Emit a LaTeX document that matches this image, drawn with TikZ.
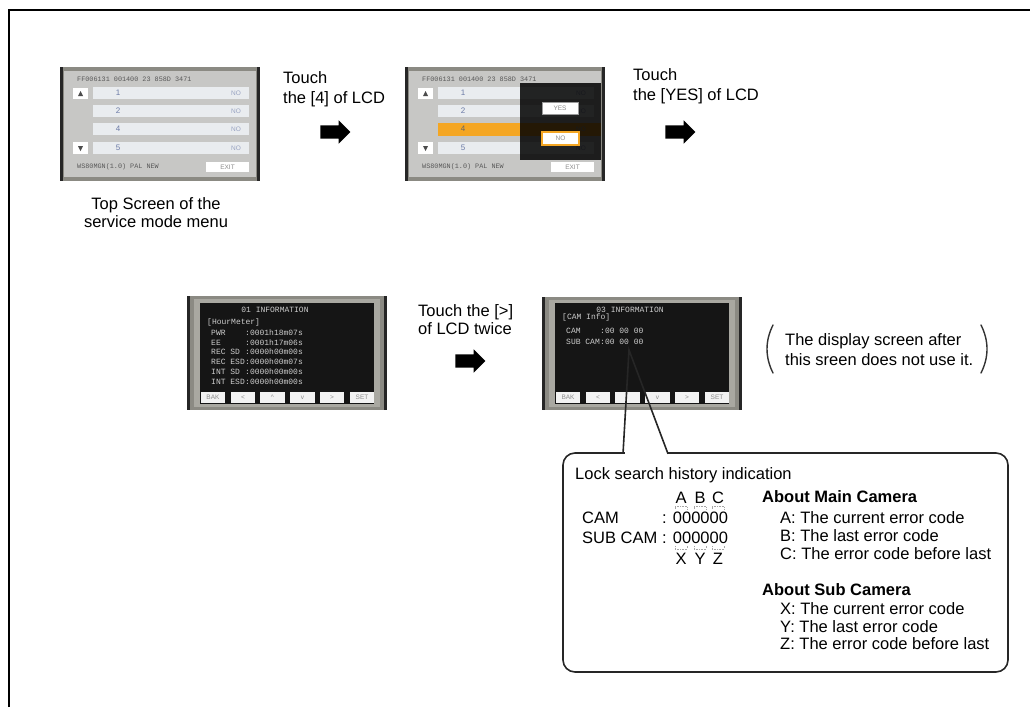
\documentclass[tikz,border=0pt]{standalone}
\usepackage{fontspec}
\setmainfont{Liberation Sans}
\setmonofont{Liberation Mono}
\usetikzlibrary{shapes.arrows}

\definecolor{lcdframe}{HTML}{8B8A83}
\definecolor{lcdring}{HTML}{A9A8A1}
\definecolor{lcdpanel}{HTML}{C7C7C5}
\definecolor{lcdrow}{HTML}{E9ECEF}
\definecolor{lcdblue}{HTML}{6B7AA6}
\definecolor{lcdorange}{HTML}{F4A623}
\definecolor{lcdblack}{HTML}{151515}

\begin{document}
\begin{tikzpicture}[x=1pt,y=-1pt,
  txt/.style={inner sep=0pt,anchor=base west,font=\fontsize{16.5}{19}\selectfont},
  ctxt/.style={txt,anchor=base},
  hdtxt/.style={txt,font=\fontsize{16.5}{19}\selectfont\bfseries},
  blockarrow/.style={single arrow,fill=black,inner sep=6.5pt,minimum height=30pt,single arrow head extend=5pt},
  lcdtxt/.style={inner sep=0pt,anchor=base west,text=white!80!black,font=\fontsize{8}{9}\ttfamily},
  infotxt/.style={inner sep=0pt,anchor=west,text=black!65,font=\fontsize{6.8}{8}\ttfamily},
  menutxt/.style={inner sep=0pt,text=lcdblue,font=\fontsize{8}{9}\selectfont},
  notxt/.style={inner sep=0pt,text=lcdblue!70,font=\fontsize{6.5}{7}\selectfont},
  keytxt/.style={inner sep=0pt,text=black!45,font=\fontsize{6.5}{7}\selectfont},
  rowbar/.style={fill=lcdrow},
  keybox/.style={fill=white!95!black},
  pairmark/.style={black!35,densely dotted,line width=0.6pt},
  callout/.style={black!85,line width=1.6pt},
  paren/.style={black!80,line width=1.4pt,line cap=round}]

\useasboundingbox (0,0) rectangle (1030,707);
\draw[line width=2pt] (9,707) -- (9,10) -- (1030,10);

\fill[lcdframe] (60,67) rectangle (260,181);
\fill[black!85] (60,67) rectangle (63,181);
\fill[black!85] (257,67) rectangle (260,181);
\fill[lcdpanel] (64,71) rectangle (256,177);
\node[infotxt] (hdra) at (77,79) {FF006131 001400 23 858D 3471};
\fill[white] (73,88) rectangle (88,99);
\fill[black!70] (78,96) -- (83,96) -- (80.5,91) -- cycle;
\fill[rowbar] (93,87) rectangle (249,99);
\fill[rowbar] (93,105) rectangle (249,117);
\fill[rowbar] (93,123) rectangle (249,135);
\fill[rowbar] (93,142) rectangle (249,154);
\fill[white] (73,142) rectangle (88,154);
\fill[black!70] (78,146) -- (83,146) -- (80.5,151) -- cycle;
\node[menutxt] (rowa1) at (118,93) {1};
\node[menutxt] (rowa2) at (118,111) {2};
\node[menutxt] (rowa3) at (118,129) {4};
\node[menutxt] (rowa4) at (118,148) {5};
\node[notxt] (noa1) at (236,93) {NO};
\node[notxt] (noa2) at (236,111) {NO};
\node[notxt] (noa3) at (236,129) {NO};
\node[notxt] (noa4) at (236,148) {NO};
\node[infotxt] (fota) at (77,167) {WS80MGN(1.0) PAL NEW};
\fill[white] (206,162) rectangle (249,172);
\node[keytxt] (exita) at (227.5,167) {EXIT};

\node[ctxt] (topa) at (156,209) {Top Screen of the};
\node[ctxt] (topb) at (156,227) {service mode menu};

\node[txt] (toucha) at (283,83) {Touch};
\node[txt] (touchb) at (283,103) {the [4] of LCD};
\node[blockarrow] (arra) at (332,132) {};

\fill[lcdframe] (405,67) rectangle (605,181);
\fill[black!85] (405,67) rectangle (408,181);
\fill[black!85] (602,67) rectangle (605,181);
\fill[lcdpanel] (409,71) rectangle (601,177);
\node[infotxt] (hdrb) at (422,79) {FF006131 001400 23 858D 3471};
\fill[white] (418,88) rectangle (433,99);
\fill[black!70] (423,96) -- (428,96) -- (425.5,91) -- cycle;
\fill[rowbar] (438,87) rectangle (594,99);
\fill[rowbar] (438,105) rectangle (594,117);
\fill[lcdorange] (438,123) rectangle (601,136);
\fill[rowbar] (438,142) rectangle (594,154);
\fill[white] (418,142) rectangle (433,154);
\fill[black!70] (423,146) -- (428,146) -- (425.5,151) -- cycle;
\node[menutxt] (rowb1) at (463,93) {1};
\node[menutxt] (rowb2) at (463,111) {2};
\node[menutxt,text=black!60] (rowb3) at (463,129) {4};
\node[menutxt] (rowb4) at (463,148) {5};
\node[notxt] (nob1) at (581,93) {NO};
\node[notxt] (nob2) at (581,111) {NO};
\node[notxt] (nob3) at (581,129) {NO};
\node[notxt] (nob4) at (581,148) {NO};
\node[infotxt] (fotb) at (422,167) {WS80MGN(1.0) PAL NEW};
\fill[white] (551,162) rectangle (594,172);
\node[keytxt] (exitb) at (572.5,167) {EXIT};
\fill[black,opacity=0.85] (520,83) rectangle (601,160);
\draw[black!40,fill=white] (542,102) rectangle (578,114);
\node[keytxt] (yesb) at (560,108) {YES};
\draw[lcdorange,line width=1.2pt,fill=white] (542,132) rectangle (579,145);
\node[keytxt] (nosel) at (560.5,138.5) {NO};

\node[txt] (touchc) at (633,80) {Touch};
\node[txt] (touchd) at (633,100) {the [YES] of LCD};
\node[blockarrow] (arrb) at (677,132) {};

\fill[black!85] (187,296) rectangle (387,410);
\fill[lcdframe] (190,296) rectangle (384,410);
\fill[lcdring] (194,299) rectangle (380,407);
\fill[lcdblack] (200,303) rectangle (374,404);
\node[lcdtxt,anchor=base] (infoa) at (275,312.5) {01 INFORMATION};
\node[lcdtxt] (hmtr) at (207,324.5) {[HourMeter]};
\node[lcdtxt] (hm1) at (211,335.5) {PWR};
\node[lcdtxt] (hv1) at (245,335.5) {:0001h18m07s};
\node[lcdtxt] (hm2) at (211,345) {EE};
\node[lcdtxt] (hv2) at (245,345) {:0001h17m06s};
\node[lcdtxt] (hm3) at (211,354.5) {REC SD};
\node[lcdtxt] (hv3) at (245,354.5) {:0000h00m00s};
\node[lcdtxt] (hm4) at (211,364) {REC ESD};
\node[lcdtxt] (hv4) at (245,364) {:0000h00m07s};
\node[lcdtxt] (hm5) at (211,374) {INT SD};
\node[lcdtxt] (hv5) at (245,374) {:0000h00m00s};
\node[lcdtxt] (hm6) at (211,384) {INT ESD};
\node[lcdtxt] (hv6) at (245,384) {:0000h00m00s};
\fill[keybox] (201,392) rectangle (225,403);
\fill[keybox] (231,392) rectangle (255,403);
\fill[keybox] (260,392) rectangle (285,403);
\fill[keybox] (290,392) rectangle (315,403);
\fill[keybox] (320,392) rectangle (344,403);
\fill[keybox] (350,392) rectangle (374,403);
\node[keytxt] (bakc) at (213,397.5) {BAK};
\node[keytxt] (ltc) at (243,397.5) {<};
\node[keytxt] (upc) at (272.5,397.5) {\^{}};
\node[keytxt] (dnc) at (302.5,397.5) {v};
\node[keytxt] (gtc) at (332,397.5) {>};
\node[keytxt] (setc) at (362,397.5) {SET};

\node[txt] (touche) at (418,316) {Touch the [>]};
\node[txt] (touchf) at (418,334) {of LCD twice};
\node[blockarrow] (arrc) at (467,361) {};

\fill[black!85] (542,297) rectangle (742,410);
\fill[lcdframe] (545,297) rectangle (739,410);
\fill[lcdring] (549,300) rectangle (735,407);
\fill[lcdblack] (555,303) rectangle (729,404);
\node[lcdtxt,anchor=base] (infob) at (630,312.5) {03 INFORMATION};
\node[lcdtxt] (caminfo) at (562,319.5) {[CAM Info]};
\node[lcdtxt] (cm1) at (566,333.5) {CAM};
\node[lcdtxt] (cv1) at (600,333.5) {:00 00 00};
\node[lcdtxt] (cm2) at (566,344.5) {SUB CAM};
\node[lcdtxt] (cv2) at (600,344.5) {:00 00 00};
\fill[keybox] (556,392) rectangle (580,403);
\fill[keybox] (586,392) rectangle (610,403);
\fill[keybox] (615,392) rectangle (640,403);
\fill[keybox] (645,392) rectangle (670,403);
\fill[keybox] (675,392) rectangle (699,403);
\fill[keybox] (705,392) rectangle (729,403);
\node[keytxt] (bakd) at (568,397.5) {BAK};
\node[keytxt] (ltd) at (598,397.5) {<};
\node[keytxt] (dnd) at (657.5,397.5) {v};
\node[keytxt] (gtd) at (687,397.5) {>};
\node[keytxt] (setd) at (717,397.5) {SET};

\draw[paren] (773,325) .. controls (765,341) and (765,357) .. (773,373);
\draw[paren] (981,325) .. controls (989,341) and (989,357) .. (981,373);
\node[txt] (notea) at (785,345) {The display screen after};
\node[txt] (noteb) at (785,365) {this sreen does not use it.};

\draw[callout,rounded corners=12pt] (563,453) rectangle (1008,672);
\fill[white] (624.5,450) rectangle (666.5,456);
\coordinate (tip) at (629,350);
\draw[callout] (623,453.8) -- (tip) -- (668,453.8);

\node[txt] (lockhd) at (575,479) {Lock search history indication};
\node[ctxt] (la) at (681,503) {A};
\node[ctxt] (lb) at (700,503) {B};
\node[ctxt] (lc) at (718,503) {C};
\draw[pairmark] (675,509) -- (675,506) -- (687,506) -- (687,509);
\draw[pairmark] (694,509) -- (694,506) -- (706,506) -- (706,509);
\draw[pairmark] (712,509) -- (712,506) -- (724,506) -- (724,509);
\node[txt] (camk) at (582,523) {CAM};
\node[txt] (camv) at (662,523) {: 000000};
\node[txt] (subk) at (582,543) {SUB CAM};
\node[txt] (subv) at (662,543) {: 000000};
\draw[pairmark] (675,546) -- (675,549) -- (687,549) -- (687,546);
\draw[pairmark] (694,546) -- (694,549) -- (706,549) -- (706,546);
\draw[pairmark] (712,546) -- (712,549) -- (724,549) -- (724,546);
\node[ctxt] (lx) at (681,564) {X};
\node[ctxt] (ly) at (700,564) {Y};
\node[ctxt] (lz) at (718,564) {Z};

\node[hdtxt] (mainhd) at (762,502) {About Main Camera};
\node[txt] (maina) at (780,523) {A: The current error code};
\node[txt] (mainb) at (780,541) {B: The last error code};
\node[txt] (mainc) at (780,559) {C: The error code before last};
\node[hdtxt] (subhd) at (762,595) {About Sub Camera};
\node[txt] (subx) at (780,614) {X: The current error code};
\node[txt] (suby) at (780,632) {Y: The last error code};
\node[txt] (subz) at (780,649) {Z: The error code before last};

\end{tikzpicture}
\end{document}
